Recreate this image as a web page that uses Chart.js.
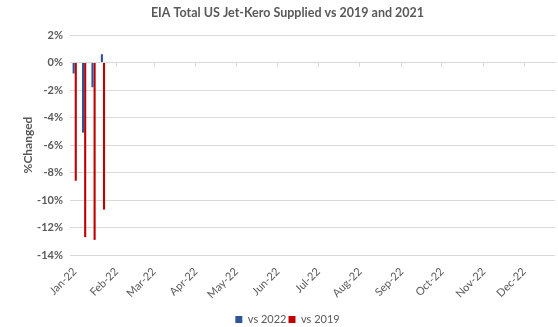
<!DOCTYPE html>
<html>
<head>
<meta charset="utf-8">
<style>
  html, body { margin: 0; padding: 0; background: #fff; }
  #wrap { width: 558px; height: 327px; }
</style>
<script src="https://cdn.jsdelivr.net/npm/chart.js@4.4.0/dist/chart.umd.min.js"></script>
</head>
<body>
<div id="wrap"><canvas id="barChart" width="558" height="327"></canvas></div>
<script>
// weeks, counted in days from 1 Jan 2022
var weeks = [0, 7, 14, 21];
// % change of weekly jet-kero supplied
var vs2022 = [-0.8, -5.1, -1.8, 0.6];
var vs2019 = [-8.6, -12.7, -12.9, -10.7];

// month starts (days from 1 Jan 2022) and their labels
var monthDays = [0, 31, 59, 90, 120, 151, 181, 212, 243, 273, 304, 334];
var monthLabels = ['Jan-22', 'Feb-22', 'Mar-22', 'Apr-22', 'May-22', 'Jun-22',
                   'Jul-22', 'Aug-22', 'Sep-22', 'Oct-22', 'Nov-22', 'Dec-22'];

var yMin = -14;
var yMax = 2;
var yStep = 2;

window.onload = main;

function main(){
    barChart();
}

function toPoints(values){
    return weeks.map(function (d, i) {
        return { x: d, y: values[i] };
    });
}

function monthTicks(axis){
    axis.ticks = monthDays.map(function (d) { return { value: d }; });
}

function barChart(){
    var gray = '#595959';
    var gridColor = '#d9d9d9';

    Chart.defaults.font.family = 'Lato, "Liberation Sans", sans-serif';
    Chart.defaults.color = gray;

    var ctx = document.getElementById('barChart').getContext('2d');

    new Chart(ctx, {
      type: 'bar',
      data: {
        datasets: [
          {
            label: 'vs 2022',
            data: toPoints(vs2022),
            backgroundColor: '#2F5597',
            categoryPercentage: 0.45,
            barPercentage: 1.0
          },
          {
            label: 'vs 2019',
            data: toPoints(vs2019),
            backgroundColor: '#C00000',
            categoryPercentage: 0.45,
            barPercentage: 1.0
          }
        ]
      },
      options: {
        responsive: false,
        animation: false,
        devicePixelRatio: 1,
        layout: { padding: { left: 20, right: 3, top: 4, bottom: -8 } },
        plugins: {
          title: {
            display: true,
            text: 'EIA Total US Jet-Kero Supplied vs 2019 and 2021',
            color: gray,
            font: { size: 12.5, weight: 'bold' },
            padding: { top: 1, bottom: 15 }
          },
          legend: {
            position: 'bottom',
            labels: {
              boxWidth: 7,
              boxHeight: 7,
              padding: 2,
              color: gray,
              font: { size: 11 }
            }
          },
          tooltip: { enabled: false }
        },
        scales: {
          x: {
            type: 'linear',
            min: -3.5,
            max: 357,
            offset: false,
            afterBuildTicks: monthTicks,
            // leave room between the month labels and the legend
            afterFit: function (axis) { axis.height = 57; },
            grid: { display: false, offset: false },
            border: { display: false },
            ticks: {
              autoSkip: false,
              minRotation: 45,
              maxRotation: 45,
              padding: 2,
              font: { size: 11 },
              callback: function (value, index) { return monthLabels[index]; }
            }
          },
          // horizontal axis line at 0% with its small month tick marks
          x0: {
            type: 'linear',
            position: { y: 0 },
            min: -3.5,
            max: 357,
            offset: false,
            afterBuildTicks: monthTicks,
            grid: { drawOnChartArea: false, drawTicks: true, tickLength: 4, color: gridColor, offset: false },
            border: { display: true, color: gridColor },
            ticks: { display: false }
          },
          y: {
            min: yMin,
            max: yMax,
            // fixed width so the plot starts right after the % labels
            afterFit: function (axis) { axis.width = 50; },
            grid: { color: gridColor, drawTicks: false },
            border: { display: false },
            ticks: {
              stepSize: yStep,
              padding: 7,
              font: { size: 11, weight: 'bold' },
              callback: function (value) { return value + '%'; }
            },
            title: {
              display: true,
              text: '%Changed',
              color: gray,
              font: { size: 12, weight: 'bold' },
              padding: { top: 1, bottom: 4 }
            }
          }
        }
      }
    });
}
</script>
</body>
</html>
